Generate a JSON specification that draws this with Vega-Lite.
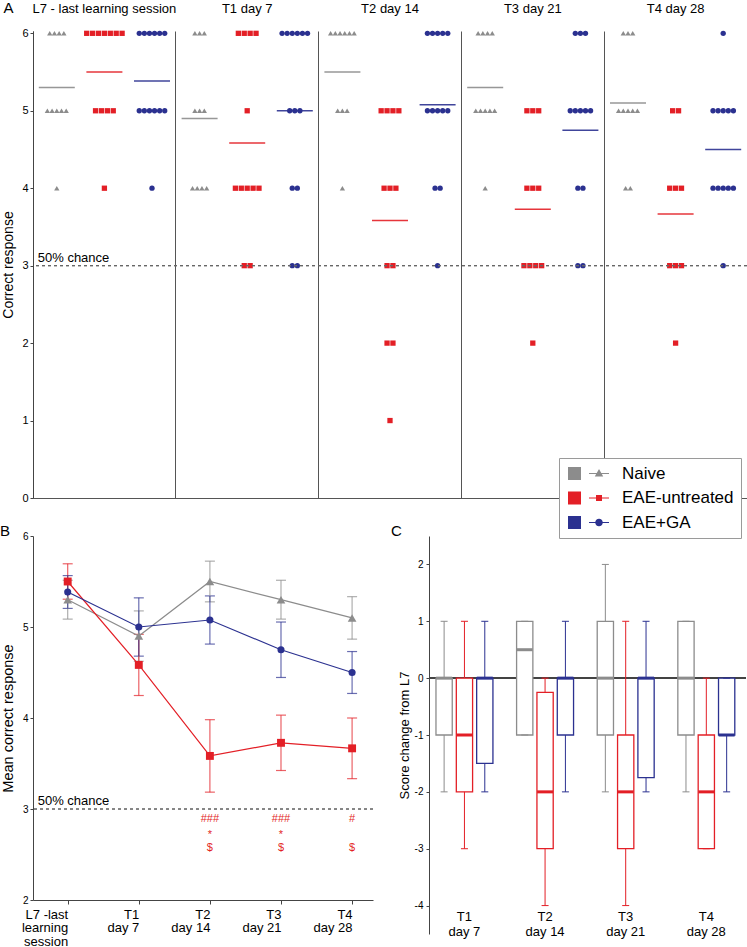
{
  "$schema": "https://vega.github.io/schema/vega-lite/v6.json",
  "padding": 0,
  "background": "white",
  "config": {
    "font": "Liberation Sans",
    "view": {"stroke": null},
    "axis": {"domainColor": "#444", "tickColor": "#444", "labelColor": "black", "titleColor": "black", "titleFontWeight": "normal", "grid": false, "labelFont": "Liberation Sans", "titleFont": "Liberation Sans"},
    "title": {"fontWeight": "normal", "font": "Liberation Sans", "color": "black"}
  },
  "datasets": {
    "scores": [
      {"s":"L7","g":"Naive","v":6},{"s":"L7","g":"Naive","v":6},{"s":"L7","g":"Naive","v":6},{"s":"L7","g":"Naive","v":6},{"s":"L7","g":"Naive","v":5},{"s":"L7","g":"Naive","v":5},{"s":"L7","g":"Naive","v":5},{"s":"L7","g":"Naive","v":5},{"s":"L7","g":"Naive","v":5},{"s":"L7","g":"Naive","v":4},
      {"s":"L7","g":"EAE-untreated","v":6},{"s":"L7","g":"EAE-untreated","v":6},{"s":"L7","g":"EAE-untreated","v":6},{"s":"L7","g":"EAE-untreated","v":6},{"s":"L7","g":"EAE-untreated","v":6},{"s":"L7","g":"EAE-untreated","v":6},{"s":"L7","g":"EAE-untreated","v":6},{"s":"L7","g":"EAE-untreated","v":5},{"s":"L7","g":"EAE-untreated","v":5},{"s":"L7","g":"EAE-untreated","v":5},{"s":"L7","g":"EAE-untreated","v":5},{"s":"L7","g":"EAE-untreated","v":4},
      {"s":"L7","g":"EAE+GA","v":6},{"s":"L7","g":"EAE+GA","v":6},{"s":"L7","g":"EAE+GA","v":6},{"s":"L7","g":"EAE+GA","v":6},{"s":"L7","g":"EAE+GA","v":6},{"s":"L7","g":"EAE+GA","v":6},{"s":"L7","g":"EAE+GA","v":5},{"s":"L7","g":"EAE+GA","v":5},{"s":"L7","g":"EAE+GA","v":5},{"s":"L7","g":"EAE+GA","v":5},{"s":"L7","g":"EAE+GA","v":5},{"s":"L7","g":"EAE+GA","v":5},{"s":"L7","g":"EAE+GA","v":4},
      {"s":"T1","g":"Naive","v":6},{"s":"T1","g":"Naive","v":6},{"s":"T1","g":"Naive","v":6},{"s":"T1","g":"Naive","v":5},{"s":"T1","g":"Naive","v":5},{"s":"T1","g":"Naive","v":5},{"s":"T1","g":"Naive","v":4},{"s":"T1","g":"Naive","v":4},{"s":"T1","g":"Naive","v":4},{"s":"T1","g":"Naive","v":4},
      {"s":"T1","g":"EAE-untreated","v":6},{"s":"T1","g":"EAE-untreated","v":6},{"s":"T1","g":"EAE-untreated","v":6},{"s":"T1","g":"EAE-untreated","v":6},{"s":"T1","g":"EAE-untreated","v":5},{"s":"T1","g":"EAE-untreated","v":4},{"s":"T1","g":"EAE-untreated","v":4},{"s":"T1","g":"EAE-untreated","v":4},{"s":"T1","g":"EAE-untreated","v":4},{"s":"T1","g":"EAE-untreated","v":4},{"s":"T1","g":"EAE-untreated","v":3},{"s":"T1","g":"EAE-untreated","v":3},
      {"s":"T1","g":"EAE+GA","v":6},{"s":"T1","g":"EAE+GA","v":6},{"s":"T1","g":"EAE+GA","v":6},{"s":"T1","g":"EAE+GA","v":6},{"s":"T1","g":"EAE+GA","v":6},{"s":"T1","g":"EAE+GA","v":6},{"s":"T1","g":"EAE+GA","v":5},{"s":"T1","g":"EAE+GA","v":5},{"s":"T1","g":"EAE+GA","v":5},{"s":"T1","g":"EAE+GA","v":4},{"s":"T1","g":"EAE+GA","v":4},{"s":"T1","g":"EAE+GA","v":3},{"s":"T1","g":"EAE+GA","v":3},
      {"s":"T2","g":"Naive","v":6},{"s":"T2","g":"Naive","v":6},{"s":"T2","g":"Naive","v":6},{"s":"T2","g":"Naive","v":6},{"s":"T2","g":"Naive","v":6},{"s":"T2","g":"Naive","v":6},{"s":"T2","g":"Naive","v":5},{"s":"T2","g":"Naive","v":5},{"s":"T2","g":"Naive","v":5},{"s":"T2","g":"Naive","v":4},
      {"s":"T2","g":"EAE-untreated","v":5},{"s":"T2","g":"EAE-untreated","v":5},{"s":"T2","g":"EAE-untreated","v":5},{"s":"T2","g":"EAE-untreated","v":5},{"s":"T2","g":"EAE-untreated","v":4},{"s":"T2","g":"EAE-untreated","v":4},{"s":"T2","g":"EAE-untreated","v":4},{"s":"T2","g":"EAE-untreated","v":3},{"s":"T2","g":"EAE-untreated","v":3},{"s":"T2","g":"EAE-untreated","v":2},{"s":"T2","g":"EAE-untreated","v":2},{"s":"T2","g":"EAE-untreated","v":1},
      {"s":"T2","g":"EAE+GA","v":6},{"s":"T2","g":"EAE+GA","v":6},{"s":"T2","g":"EAE+GA","v":6},{"s":"T2","g":"EAE+GA","v":6},{"s":"T2","g":"EAE+GA","v":6},{"s":"T2","g":"EAE+GA","v":5},{"s":"T2","g":"EAE+GA","v":5},{"s":"T2","g":"EAE+GA","v":5},{"s":"T2","g":"EAE+GA","v":5},{"s":"T2","g":"EAE+GA","v":5},{"s":"T2","g":"EAE+GA","v":4},{"s":"T2","g":"EAE+GA","v":4},{"s":"T2","g":"EAE+GA","v":3},
      {"s":"T3","g":"Naive","v":6},{"s":"T3","g":"Naive","v":6},{"s":"T3","g":"Naive","v":6},{"s":"T3","g":"Naive","v":6},{"s":"T3","g":"Naive","v":5},{"s":"T3","g":"Naive","v":5},{"s":"T3","g":"Naive","v":5},{"s":"T3","g":"Naive","v":5},{"s":"T3","g":"Naive","v":5},{"s":"T3","g":"Naive","v":4},
      {"s":"T3","g":"EAE-untreated","v":5},{"s":"T3","g":"EAE-untreated","v":5},{"s":"T3","g":"EAE-untreated","v":5},{"s":"T3","g":"EAE-untreated","v":4},{"s":"T3","g":"EAE-untreated","v":4},{"s":"T3","g":"EAE-untreated","v":4},{"s":"T3","g":"EAE-untreated","v":3},{"s":"T3","g":"EAE-untreated","v":3},{"s":"T3","g":"EAE-untreated","v":3},{"s":"T3","g":"EAE-untreated","v":3},{"s":"T3","g":"EAE-untreated","v":2},
      {"s":"T3","g":"EAE+GA","v":6},{"s":"T3","g":"EAE+GA","v":6},{"s":"T3","g":"EAE+GA","v":6},{"s":"T3","g":"EAE+GA","v":5},{"s":"T3","g":"EAE+GA","v":5},{"s":"T3","g":"EAE+GA","v":5},{"s":"T3","g":"EAE+GA","v":5},{"s":"T3","g":"EAE+GA","v":5},{"s":"T3","g":"EAE+GA","v":4},{"s":"T3","g":"EAE+GA","v":4},{"s":"T3","g":"EAE+GA","v":3},{"s":"T3","g":"EAE+GA","v":3},
      {"s":"T4","g":"Naive","v":6},{"s":"T4","g":"Naive","v":6},{"s":"T4","g":"Naive","v":6},{"s":"T4","g":"Naive","v":5},{"s":"T4","g":"Naive","v":5},{"s":"T4","g":"Naive","v":5},{"s":"T4","g":"Naive","v":5},{"s":"T4","g":"Naive","v":5},{"s":"T4","g":"Naive","v":4},{"s":"T4","g":"Naive","v":4},
      {"s":"T4","g":"EAE-untreated","v":5},{"s":"T4","g":"EAE-untreated","v":5},{"s":"T4","g":"EAE-untreated","v":4},{"s":"T4","g":"EAE-untreated","v":4},{"s":"T4","g":"EAE-untreated","v":4},{"s":"T4","g":"EAE-untreated","v":3},{"s":"T4","g":"EAE-untreated","v":3},{"s":"T4","g":"EAE-untreated","v":3},{"s":"T4","g":"EAE-untreated","v":2},
      {"s":"T4","g":"EAE+GA","v":6},{"s":"T4","g":"EAE+GA","v":5},{"s":"T4","g":"EAE+GA","v":5},{"s":"T4","g":"EAE+GA","v":5},{"s":"T4","g":"EAE+GA","v":5},{"s":"T4","g":"EAE+GA","v":5},{"s":"T4","g":"EAE+GA","v":4},{"s":"T4","g":"EAE+GA","v":4},{"s":"T4","g":"EAE+GA","v":4},{"s":"T4","g":"EAE+GA","v":4},{"s":"T4","g":"EAE+GA","v":4},{"s":"T4","g":"EAE+GA","v":3}
    ],
    "boxes": [
      {"s":"T1","g":"Naive","lo":-2,"q1":-1,"med":0,"q3":0,"hi":1},
      {"s":"T1","g":"EAE-untreated","lo":-3,"q1":-2,"med":-1,"q3":0,"hi":1},
      {"s":"T1","g":"EAE+GA","lo":-2,"q1":-1.5,"med":0,"q3":0,"hi":1},
      {"s":"T2","g":"Naive","lo":-1,"q1":-1,"med":0.5,"q3":1,"hi":1},
      {"s":"T2","g":"EAE-untreated","lo":-4,"q1":-3,"med":-2,"q3":-0.25,"hi":0},
      {"s":"T2","g":"EAE+GA","lo":-2,"q1":-1,"med":0,"q3":0,"hi":1},
      {"s":"T3","g":"Naive","lo":-2,"q1":-1,"med":0,"q3":1,"hi":2},
      {"s":"T3","g":"EAE-untreated","lo":-4,"q1":-3,"med":-2,"q3":-1,"hi":1},
      {"s":"T3","g":"EAE+GA","lo":-2,"q1":-1.75,"med":0,"q3":0,"hi":1},
      {"s":"T4","g":"Naive","lo":-2,"q1":-1,"med":0,"q3":1,"hi":1},
      {"s":"T4","g":"EAE-untreated","lo":-3,"q1":-3,"med":-2,"q3":-1,"hi":0},
      {"s":"T4","g":"EAE+GA","lo":-2,"q1":-1,"med":-1,"q3":0,"hi":0}
    ],
    "sig": [
      {"s":"T2","hash":"###","star":"*","dollar":"$"},
      {"s":"T3","hash":"###","star":"*","dollar":"$"},
      {"s":"T4","hash":"#","star":"","dollar":"$"}
    ]
  },
  "resolve": {"scale": {"color": "independent", "shape": "independent"}},
  "bounds": "flush",
  "spacing": 38,
  "vconcat": [
    {
      "width": 714,
      "height": 467,
      "resolve": {"scale": {"color": "independent", "shape": "independent"}, "axis": {"x": "independent", "y": "independent"}},
      "layer": [
        {
          "data": {"name": "scores"},
          "transform": [
            {"calculate": "indexof(['Naive','EAE-untreated','EAE+GA'], datum.g)", "as": "gi"},
            {"window": [{"op": "row_number", "as": "rn"}], "groupby": ["s", "g", "v"]},
            {"joinaggregate": [{"op": "count", "as": "cnt"}], "groupby": ["s", "g", "v"]},
            {"calculate": "datum.gi + (datum.rn - (datum.cnt + 1) / 2) * [0.099, 0.124, 0.107][datum.gi]", "as": "xo"}
          ],
          "mark": {"type": "point", "filled": true, "size": 28, "opacity": 1},
          "encoding": {
            "x": {"field": "s", "type": "nominal", "scale": {"domain": ["L7","T1","T2","T3","T4"], "paddingInner": 0, "paddingOuter": 0},
              "axis": {"orient": "top", "title": "A", "titleX": -30, "titleY": -19, "titleAlign": "left", "titleBaseline": "alphabetic", "titleFontSize": 15, "titleAnchor": "start",
                "labelExpr": "['L7 - last learning session','T1 day 7','T2 day 14','T3 day 21','T4 day 28'][indexof(['L7','T1','T2','T3','T4'], datum.value)]",
                "labelFontSize": 13, "labelPadding": 19, "labelBaseline": "alphabetic", "ticks": false, "tickSize": 0, "domain": false, "labelAngle": 0}},
            "xOffset": {"field": "xo", "type": "quantitative", "scale": {"domain": [-0.5, 2.5], "nice": false, "zero": false}},
            "y": {"field": "v", "type": "quantitative", "scale": {"domain": [0, 6.03], "nice": false},
              "axis": {"title": "Correct response", "values": [0,1,2,3,4,5,6], "labelExpr": "'' + datum.value", "tickSize": 3, "labelPadding": 2, "labelFontSize": 11, "titleFontSize": 14, "titlePadding": 4, "minExtent": 14, "maxExtent": 14}},
            "color": {"field": "g", "type": "nominal", "scale": {"domain": ["Naive","EAE-untreated","EAE+GA"], "range": ["#8c8c8c","#e31f26","#2b3190"]}, "legend": null},
            "shape": {"field": "g", "type": "nominal", "scale": {"domain": ["Naive","EAE-untreated","EAE+GA"], "range": ["triangle-up","square","circle"]}, "legend": null}
          }
        },
        {
          "data": {"name": "scores"},
          "transform": [
            {"aggregate": [{"op": "mean", "field": "v", "as": "m"}], "groupby": ["s", "g"]},
            {"calculate": "indexof(['Naive','EAE-untreated','EAE+GA'], datum.g)", "as": "gi"}
          ],
          "mark": {"type": "tick", "orient": "horizontal", "size": 36, "thickness": 1.5, "opacity": 0.9},
          "encoding": {
            "x": {"field": "s", "type": "nominal", "axis": {"orient": "bottom", "labels": false, "ticks": false, "title": null, "domain": true, "grid": true, "bandPosition": 0, "gridColor": "#555", "gridOpacity": 1, "domainColor": "#555"}},
            "xOffset": {"field": "gi", "type": "quantitative"},
            "y": {"field": "m", "type": "quantitative", "axis": {"orient": "right", "labels": false, "ticks": false, "title": null, "domain": true, "domainColor": "#555"}},
            "color": {"field": "g", "type": "nominal", "scale": {"domain": ["Naive","EAE-untreated","EAE+GA"], "range": ["#8c8c8c","#e31f26","#2b3190"]}, "legend": null}
          }
        },
        {
          "data": {"name": "sig"},
          "mark": {"type": "rule", "strokeDash": [3, 3], "color": "#666", "strokeWidth": 1},
          "encoding": {"y": {"datum": 3, "axis": null}}
        },
        {
          "data": {"values": [{"label": "50% chance"}]},
          "mark": {"type": "text", "align": "left", "baseline": "alphabetic", "dy": -4, "fontSize": 13, "color": "black"},
          "encoding": {
            "x": {"datum": "L7", "axis": null},
            "xOffset": {"datum": -0.4},
            "y": {"datum": 3, "axis": null},
            "text": {"field": "label"}
          }
        },
        {
          "data": {"name": "scores"},
          "transform": [{"filter": "false"}],
          "mark": {"type": "point", "filled": true, "opacity": 1},
          "encoding": {
            "color": {"field": "g", "type": "nominal", "scale": {"domain": ["Naive","EAE-untreated","EAE+GA"], "range": ["#8c8c8c","#e31f26","#2b3190"]},
              "legend": {"title": null, "orient": "none", "legendX": 526, "legendY": 427, "strokeColor": "#9a9a9a", "fillColor": "white", "padding": 7, "rowPadding": 6.5, "labelFontSize": 17, "labelOffset": 39, "symbolSize": 169, "symbolStrokeWidth": 0, "symbolOpacity": 1, "labelColor": "black"}},
            "shape": {"field": "g", "type": "nominal", "scale": {"domain": ["Naive","EAE-untreated","EAE+GA"], "range": [
              "M-1,-1H1V1H-1Z M2.23,-0.09H5.31V0.09H2.23Z M3.77,-0.7L4.42,0.45H3.12Z",
              "M-1,-1H1V1H-1Z M2.23,-0.09H5.31V0.09H2.23Z M3.31,-0.46H4.23V0.46H3.31Z",
              "M-1,-1H1V1H-1Z M2.23,-0.09H5.31V0.09H2.23Z M3.19,0A0.58,0.58,0,1,1,4.35,0A0.58,0.58,0,1,1,3.19,0Z"]},
              "legend": {"title": null, "orient": "none", "legendX": 526, "legendY": 427, "strokeColor": "#9a9a9a", "fillColor": "white", "padding": 7, "rowPadding": 6.5, "labelFontSize": 17, "labelOffset": 39, "symbolSize": 169, "symbolStrokeWidth": 0, "symbolOpacity": 1, "labelColor": "black"}}
          }
        }
      ]
    },
    {
      "bounds": "flush",
      "spacing": 56,
      "hconcat": [
        {
          "width": 340,
          "height": 364,
          "title": {"text": "B", "anchor": "start", "frame": "bounds", "fontSize": 15, "baseline": "alphabetic", "offset": -20},
          "layer": [
            {
              "data": {"name": "sig"},
              "mark": {"type": "rule", "strokeDash": [3, 3], "color": "#666", "strokeWidth": 0.8},
              "encoding": {"y": {"datum": 3, "type": "quantitative", "scale": {"domain": [2, 6], "nice": false}, "title": "Mean correct response"}}
            },
            {
              "data": {"values": [{"label": "50% chance"}]},
              "mark": {"type": "text", "align": "left", "baseline": "alphabetic", "dx": -30, "dy": -4, "fontSize": 13, "color": "black"},
              "encoding": {
                "x": {"datum": "L7"},
                "y": {"datum": 3, "type": "quantitative"},
                "text": {"field": "label"}
              }
            },
            {
              "data": {"name": "scores"},
              "mark": {"type": "errorbar", "extent": "stderr", "thickness": 1.2, "rule": {"opacity": 0.7}, "ticks": {"size": 10, "opacity": 0.7}},
              "encoding": {
                "x": {"field": "s", "type": "nominal", "scale": {"type": "point", "domain": ["L7","T1","T2","T3","T4"], "padding": 0.391, "align": 0.624},
                  "axis": {"title": null, "labelAngle": 0, "labelExpr": "[['L7 -last','learning','session'],['T1','day 7'],['T2','day 14'],['T3','day 21'],['T4','day 28']][indexof(['L7','T1','T2','T3','T4'], datum.value)]", "labelFontSize": 13, "labelLineHeight": 13.5, "labelBaseline": "top", "labelPadding": 4, "tickSize": 4}},
                "y": {"field": "v", "type": "quantitative", "title": "Mean correct response",
                  "axis": {"values": [2,3,4,5,6], "labelExpr": "'' + datum.value", "tickSize": 3, "labelPadding": 2, "labelFontSize": 10, "titleFontSize": 14.5, "titlePadding": 4, "minExtent": 14, "maxExtent": 14}},
                "color": {"field": "g", "type": "nominal", "scale": {"domain": ["Naive","EAE-untreated","EAE+GA"], "range": ["#8c8c8c","#e31f26","#2b3190"]}, "legend": null}
              }
            },
            {
              "data": {"name": "scores"},
              "mark": {"type": "line", "strokeWidth": 1.2},
              "encoding": {
                "x": {"field": "s", "type": "nominal"},
                "y": {"field": "v", "type": "quantitative", "aggregate": "mean", "title": "Mean correct response"},
                "color": {"field": "g", "type": "nominal", "scale": {"domain": ["Naive","EAE-untreated","EAE+GA"], "range": ["#8c8c8c","#e31f26","#2b3190"]}, "legend": null}
              }
            },
            {
              "data": {"name": "scores"},
              "mark": {"type": "point", "filled": true, "opacity": 1},
              "encoding": {
                "x": {"field": "s", "type": "nominal"},
                "y": {"field": "v", "type": "quantitative", "aggregate": "mean", "title": "Mean correct response"},
                "color": {"field": "g", "type": "nominal", "scale": {"domain": ["Naive","EAE-untreated","EAE+GA"], "range": ["#8c8c8c","#e31f26","#2b3190"]}, "legend": null},
                "shape": {"field": "g", "type": "nominal", "scale": {"domain": ["Naive","EAE-untreated","EAE+GA"], "range": ["triangle-up","square","circle"]}, "legend": null},
                "size": {"field": "g", "type": "nominal", "scale": {"domain": ["Naive","EAE-untreated","EAE+GA"], "range": [75, 50, 85]}, "legend": null}
              }
            },
            {
              "data": {"name": "sig"},
              "mark": {"type": "text", "color": "#e31f26", "fontSize": 11, "baseline": "middle"},
              "encoding": {
                "x": {"field": "s", "type": "nominal"},
                "y": {"datum": 2.89, "type": "quantitative"},
                "text": {"field": "hash"}
              }
            },
            {
              "data": {"name": "sig"},
              "mark": {"type": "text", "color": "#e31f26", "fontSize": 11, "baseline": "middle"},
              "encoding": {
                "x": {"field": "s", "type": "nominal"},
                "y": {"datum": 2.71, "type": "quantitative"},
                "text": {"field": "star"}
              }
            },
            {
              "data": {"name": "sig"},
              "mark": {"type": "text", "color": "#e31f26", "fontSize": 11, "baseline": "middle"},
              "encoding": {
                "x": {"field": "s", "type": "nominal"},
                "y": {"datum": 2.575, "type": "quantitative"},
                "text": {"field": "dollar"}
              }
            }
          ]
        },
        {
          "width": 317,
          "height": 398,
          "title": {"text": "C", "anchor": "start", "frame": "bounds", "fontSize": 15, "baseline": "alphabetic", "offset": -15, "dx": -7},
          "data": {"name": "boxes"},
          "layer": [
            {
              "mark": {"type": "rule", "color": "#444", "strokeWidth": 1},
              "encoding": {"y": {"datum": 0, "type": "quantitative", "scale": {"domain": [-4.5, 2.5], "nice": false}, "title": "Score change from L7"}}
            },
            {
              "mark": {"type": "rule", "strokeWidth": 1},
              "encoding": {
                "x": {"field": "s", "type": "nominal", "scale": {"domain": ["T1","T2","T3","T4"], "paddingInner": 0.243, "paddingOuter": 0.0875, "align": 0.35},
                  "axis": {"title": null, "labelAngle": 0, "domain": false, "ticks": false, "labelExpr": "[['T1','day 7'],['T2','day 14'],['T3','day 21'],['T4','day 28']][indexof(['T1','T2','T3','T4'], datum.value)]", "labelFontSize": 13, "labelLineHeight": 15, "labelBaseline": "top", "labelPadding": 0, "offset": -24}},
                "xOffset": {"field": "g", "type": "nominal", "scale": {"domain": ["Naive","EAE-untreated","EAE+GA"], "paddingInner": 0.2, "paddingOuter": 0.1}},
                "y": {"field": "lo", "type": "quantitative", "title": "Score change from L7",
                  "axis": {"values": [-4,-3,-2,-1,0,1,2], "labelExpr": "'' + datum.value", "tickSize": 3, "labelPadding": 3, "labelFontSize": 10, "titleFontSize": 13, "titlePadding": 3}},
                "y2": {"field": "hi"},
                "color": {"field": "g", "type": "nominal", "scale": {"domain": ["Naive","EAE-untreated","EAE+GA"], "range": ["#8c8c8c","#e31f26","#2b3190"]}, "legend": null}
              }
            },
            {
              "mark": {"type": "bar", "fill": "white", "strokeWidth": 1.3},
              "encoding": {
                "x": {"field": "s", "type": "nominal"},
                "xOffset": {"field": "g", "type": "nominal"},
                "y": {"field": "q1", "type": "quantitative", "title": "Score change from L7"},
                "y2": {"field": "q3"},
                "stroke": {"field": "g", "type": "nominal", "scale": {"domain": ["Naive","EAE-untreated","EAE+GA"], "range": ["#8c8c8c","#e31f26","#2b3190"]}, "legend": null}
              }
            },
            {
              "mark": {"type": "tick", "orient": "horizontal", "size": 16, "thickness": 3, "opacity": 1},
              "encoding": {
                "x": {"field": "s", "type": "nominal"},
                "xOffset": {"field": "g", "type": "nominal"},
                "y": {"field": "med", "type": "quantitative", "title": "Score change from L7"},
                "color": {"field": "g", "type": "nominal", "scale": {"domain": ["Naive","EAE-untreated","EAE+GA"], "range": ["#8c8c8c","#e31f26","#2b3190"]}, "legend": null}
              }
            },
            {
              "mark": {"type": "tick", "orient": "horizontal", "size": 7, "thickness": 1, "opacity": 1},
              "encoding": {
                "x": {"field": "s", "type": "nominal"},
                "xOffset": {"field": "g", "type": "nominal"},
                "y": {"field": "lo", "type": "quantitative", "title": "Score change from L7"},
                "color": {"field": "g", "type": "nominal", "scale": {"domain": ["Naive","EAE-untreated","EAE+GA"], "range": ["#8c8c8c","#e31f26","#2b3190"]}, "legend": null}
              }
            },
            {
              "mark": {"type": "tick", "orient": "horizontal", "size": 7, "thickness": 1, "opacity": 1},
              "encoding": {
                "x": {"field": "s", "type": "nominal"},
                "xOffset": {"field": "g", "type": "nominal"},
                "y": {"field": "hi", "type": "quantitative", "title": "Score change from L7"},
                "color": {"field": "g", "type": "nominal", "scale": {"domain": ["Naive","EAE-untreated","EAE+GA"], "range": ["#8c8c8c","#e31f26","#2b3190"]}, "legend": null}
              }
            }
          ]
        }
      ]
    }
  ]
}
